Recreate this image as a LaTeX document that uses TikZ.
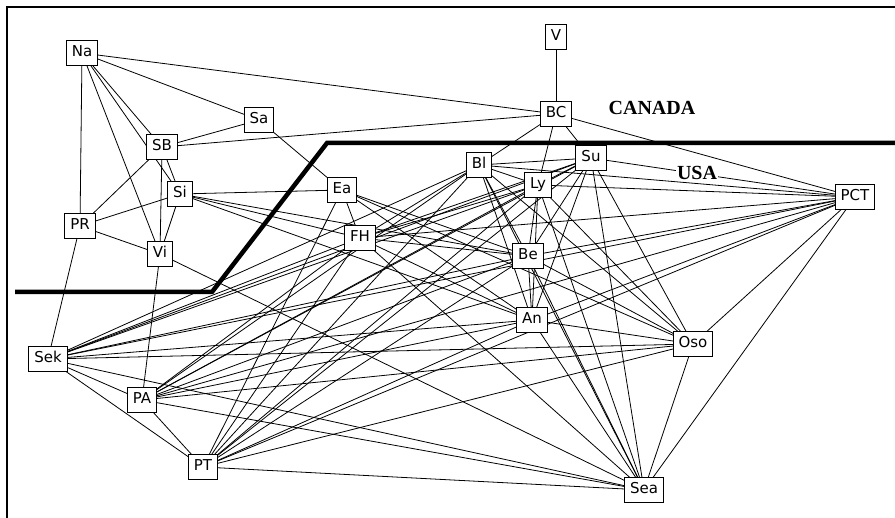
\documentclass[tikz,border=0pt]{standalone}
\usepackage{fontspec}
\setmainfont{DejaVu Sans}
\newfontfamily\labfont{Liberation Serif}
\begin{document}
\begin{tikzpicture}[x=1pt,y=-1pt,
  city/.style={draw=black,line width=1pt,fill=white,inner xsep=5.5pt,inner ysep=0pt,
    minimum height=25pt,text height=11pt,text depth=3pt,font=\fontsize{15}{15}\selectfont},
  link/.style={line width=0.8pt},
  border/.style={line width=4.5pt},
  country/.style={font=\labfont\bfseries\fontsize{20}{20}\selectfont,inner sep=1pt}]
\useasboundingbox (0,0) rectangle (895,518);
\draw[line width=2pt] (7,518) -- (7,7) -- (895,7);
\draw[border] (15,292) -- (212,292) -- (327,143) -- (895,143);
\node[country] (canada) at (652,108) {CANADA};
% node centres
\coordinate (cNa) at (82,53);
\coordinate (cSa) at (259,120);
\coordinate (cSB) at (162,147);
\coordinate (cSi) at (180,194);
\coordinate (cVi) at (160,254);
\coordinate (cPR) at (80,226);
\coordinate (cEa) at (342,190);
\coordinate (cFH) at (360,238);
\coordinate (cBC) at (556,114);
\coordinate (cV) at (556,37);
\coordinate (cBl) at (479,165);
\coordinate (cSu) at (591,158);
\coordinate (cLy) at (538,185);
\coordinate (cBe) at (528,256);
\coordinate (cAn) at (532,320);
\coordinate (cSea) at (644,490);
\coordinate (cOso) at (693,344);
\coordinate (cPCT) at (855,197);
\coordinate (cSek) at (48,359);
\coordinate (cPA) at (142,400);
\coordinate (cPT) at (203,467);
\begin{scope}[link]
% Canadian side
\foreach \a/\b in {Na/BC,Na/Sa,Na/SB,Na/Si,Na/Vi,Na/PR,Sa/SB,Sa/Ea,SB/BC,SB/Si,SB/PR,SB/Vi,
  Si/Ea,Si/PR,Si/Vi,Si/FH,Si/Be,Si/An,PR/Vi,PR/Sek,Vi/PA,Vi/Sea,
  Ea/FH,Ea/Be,Ea/An,Ea/PT,Ea/Oso,BC/V,BC/Bl,BC/Ly,BC/Su,BC/PCT}
  \draw (c\a) -- (c\b);
% USA side
\foreach \a/\b in {Bl/Su,Bl/Ly,Bl/Be,Bl/An,Bl/Sea,Bl/PCT,Bl/Oso,Bl/Sek,Bl/PA,Bl/PT,Bl/FH,
  Su/Ly,Su/Be,Su/An,Su/Sea,Su/Oso,Su/PCT,Su/Sek,Su/PA,Su/PT,Su/FH,
  Ly/Be,Ly/An,Ly/Sea,Ly/Oso,Ly/PCT,Ly/Sek,Ly/PA,Ly/PT,Ly/FH,
  Be/An,Be/Sea,Be/Oso,Be/PCT,Be/Sek,Be/PA,Be/PT,Be/FH,
  An/Sea,An/Oso,An/PCT,An/Sek,An/PA,An/PT,An/FH,
  PCT/Oso,PCT/Sea,PCT/Sek,PCT/PA,PCT/PT,PCT/FH,
  Oso/Sea,Oso/Sek,Oso/PA,Oso/PT,
  Sea/Sek,Sea/PA,Sea/PT,Sek/PA,Sek/PT,PA/PT,
  FH/Sek,FH/PA,FH/PT,FH/Sea}
  \draw (c\a) -- (c\b);
\end{scope}
\node[country,fill=white] (usa) at (697,173) {USA};
\foreach \n in {Na,Sa,SB,Si,Vi,PR,Ea,FH,BC,V,Bl,Su,Ly,Be,An,Sea,Oso,PCT,Sek,PA,PT}
  \node[city] (\n) at (c\n) {\n};
\end{tikzpicture}
\end{document}
